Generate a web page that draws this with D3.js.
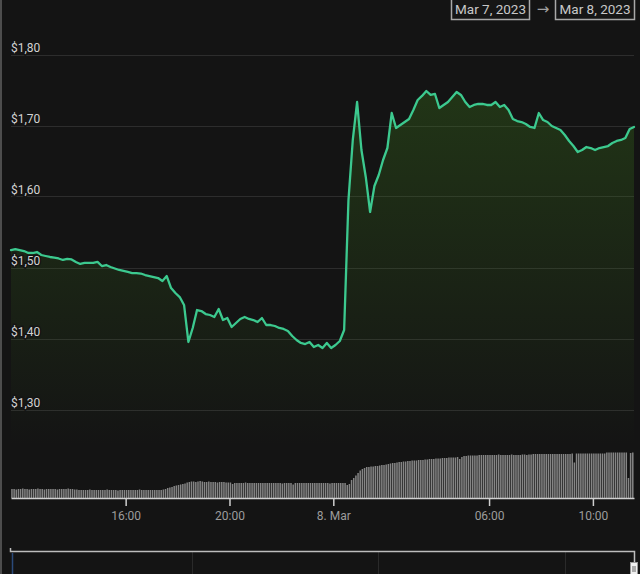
<!DOCTYPE html>
<html>
<head>
<meta charset="utf-8">
<script src="https://cdn.jsdelivr.net/npm/d3@7"></script>
<style>
  html, body { margin: 0; padding: 0; background: #141414; }
  svg { display: block; font-family: Roboto, "Noto Sans", sans-serif; }
</style>
</head>
<body>
<svg id="chart" width="640" height="574"></svg>
<script>
// ---- data ----
const rangeLabels = ["Mar 7, 2023", "Mar 8, 2023"];
const priceTicks = [1.3, 1.4, 1.5, 1.6, 1.7, 1.8];
const priceTickLabels = ["$1,30", "$1,40", "$1,50", "$1,60", "$1,70", "$1,80"];
const timeTicks = ["2023-03-07T16:00", "2023-03-07T20:00", "2023-03-08T00:00", "2023-03-08T06:00", "2023-03-08T10:00"];
const timeTickLabels = ["16:00", "20:00", "8. Mar", "06:00", "10:00"];
const seriesStart = "2023-03-07T11:35";
const seriesEnd = "2023-03-08T11:35";
const priceStepMinutes = 10;
const volumeStepMinutes = 5;

// USD price, every 10 minutes from Mar 7 11:35
const prices = [
  1.5246, 1.5260, 1.5246, 1.5232, 1.5204, 1.5204, 1.5218, 1.5176, 1.5162, 1.5148,
  1.5140, 1.5127, 1.5106, 1.5120, 1.5113, 1.5078, 1.5050, 1.5064, 1.5064, 1.5064,
  1.5078, 1.5021, 1.5035, 1.5007, 1.4986, 1.4965, 1.4951, 1.4937, 1.4922, 1.4922,
  1.4915, 1.4894, 1.4880, 1.4866, 1.4852, 1.4810, 1.4880, 1.4711, 1.4641, 1.4584,
  1.4472, 1.3951, 1.4148, 1.4401, 1.4387, 1.4345, 1.4331, 1.4303, 1.4415, 1.4260,
  1.4289, 1.4162, 1.4218, 1.4275, 1.4303, 1.4275, 1.4260, 1.4232, 1.4289, 1.4190,
  1.4190, 1.4176, 1.4148, 1.4134, 1.4106, 1.4035, 1.3979, 1.3937, 1.3922, 1.3951,
  1.3880, 1.3908, 1.3866, 1.3937, 1.3866, 1.3908, 1.3965, 1.4120, 1.5950, 1.6796,
  1.7331, 1.6655, 1.6275, 1.5782, 1.6148, 1.6303, 1.6514, 1.6683, 1.7176, 1.6965,
  1.7007, 1.7049, 1.7092, 1.7218, 1.7359, 1.7416, 1.7486, 1.7430, 1.7444, 1.7246,
  1.7289, 1.7331, 1.7401, 1.7472, 1.7430, 1.7331, 1.7260, 1.7289, 1.7303, 1.7303,
  1.7289, 1.7289, 1.7331, 1.7260, 1.7289, 1.7218, 1.7092, 1.7063, 1.7049, 1.7021,
  1.6979, 1.6965, 1.7176, 1.7077, 1.7049, 1.6993, 1.6965, 1.6937, 1.6866, 1.6782,
  1.6711, 1.6627, 1.6655, 1.6697, 1.6683, 1.6655, 1.6683, 1.6697, 1.6711, 1.6753,
  1.6782, 1.6796, 1.6824, 1.6951, 1.6979
];

// 24h volume (millions USD), every 5 minutes from Mar 7 11:35
const volumes = [
  18, 18, 17, 18, 18, 19, 18, 18, 17, 18, 18, 18, 19, 18, 18, 17, 18, 18, 18, 18,
  18, 17, 18, 18, 18, 18, 19, 18, 18, 17, 17, 16, 16, 16, 16, 16, 17, 16, 16, 16,
  16, 16, 16, 16, 17, 16, 16, 16, 16, 15, 16, 16, 16, 16, 16, 16, 16, 16, 16, 17,
  16, 16, 16, 16, 16, 16, 16, 16, 16, 16, 17, 18, 20, 21, 22, 24, 25, 26, 27, 28,
  29, 31, 32, 33, 33, 32, 33, 34, 33, 32, 32, 33, 32, 32, 32, 31, 32, 32, 32, 31,
  31, 31, 28, 30, 30, 30, 30, 30, 31, 30, 30, 30, 30, 30, 30, 30, 30, 30, 30, 30,
  30, 30, 30, 30, 30, 29, 30, 30, 30, 30, 27, 30, 30, 30, 30, 30, 30, 30, 30, 30,
  30, 30, 30, 30, 30, 30, 30, 29, 30, 30, 30, 30, 30, 30, 30, 26, 28, 36, 40, 45,
  50, 55, 58, 60, 62, 62, 63, 63, 64, 64, 65, 66, 66, 67, 68, 69, 70, 70, 71, 72,
  72, 73, 73, 74, 74, 75, 75, 75, 76, 76, 76, 77, 77, 78, 78, 78, 79, 79, 79, 80,
  80, 80, 81, 81, 81, 81, 82, 78, 82, 84, 84, 85, 85, 85, 85, 85, 86, 86, 86, 86,
  86, 86, 86, 86, 86, 87, 86, 86, 86, 86, 86, 87, 86, 86, 86, 86, 87, 87, 86, 87,
  87, 88, 88, 88, 88, 88, 88, 88, 88, 88, 88, 88, 88, 88, 88, 88, 88, 88, 88, 89,
  71, 89, 89, 89, 89, 89, 89, 89, 89, 89, 89, 89, 89, 89, 89, 91, 91, 91, 91, 91,
  91, 91, 91, 91, 91, 40, 90, 91
];

// ---- chart ----
const svg = d3.select("#chart");
const W = 640, H = 574;
const left = 11, right = 634;

const parse = d3.timeParse("%Y-%m-%dT%H:%M");
const t0 = parse(seriesStart), t1 = parse(seriesEnd);
const x = d3.scaleTime().domain([t0, t1]).range([left, right]);
const y = d3.scaleLinear().domain([1.3, 1.8]).range([409.5, 54.5]);
const yVol = d3.scaleLinear().domain([0, 200]).range([498, 398]);

const priceData = prices.map((p, i) => ({ t: d3.timeMinute.offset(t0, i * priceStepMinutes), p }));
const volData = volumes.map((v, i) => ({ t: d3.timeMinute.offset(t0, i * volumeStepMinutes), v }));

// left border
svg.append("rect").attr("x", 0).attr("y", 0).attr("width", 2).attr("height", H).attr("fill", "#4d4d4d");

// gradient
const defs = svg.append("defs");
const grad = defs.append("linearGradient").attr("id", "areaGrad")
  .attr("gradientUnits", "userSpaceOnUse").attr("x1", 0).attr("x2", 0).attr("y1", 54).attr("y2", 445);
grad.append("stop").attr("offset", 0).attr("stop-color", "#3d7a1c").attr("stop-opacity", 0.36);
grad.append("stop").attr("offset", 1).attr("stop-color", "#3d7a1c").attr("stop-opacity", 0.0);

// gridlines
svg.append("g").selectAll("line").data(priceTicks).join("line")
  .attr("x1", left).attr("x2", right)
  .attr("y1", d => Math.round(y(d)) + 0.5).attr("y2", d => Math.round(y(d)) + 0.5)
  .attr("stroke", "#2d2d2d").attr("stroke-width", 1);

// area + line
const area = d3.area().x(d => x(d.t)).y0(445).y1(d => y(d.p));
svg.append("path").datum(priceData).attr("d", area).attr("fill", "url(#areaGrad)");

const line = d3.line().x(d => x(d.t)).y(d => y(d.p));
svg.append("path").datum(priceData).attr("d", line)
  .attr("fill", "none").attr("stroke", "#3cc98f").attr("stroke-width", 2.3)
  .attr("stroke-linejoin", "round").attr("stroke-linecap", "round");

// y labels
svg.append("g").selectAll("text").data(priceTicks).join("text")
  .attr("x", left).attr("y", d => y(d) - 2.5)
  .text((d, i) => priceTickLabels[i])
  .attr("fill", "#d2d2d2").attr("font-size", 12)
  .attr("stroke", "#141414").attr("stroke-width", 3).attr("paint-order", "stroke");

// volume bars
svg.append("g").selectAll("rect").data(volData).join("rect")
  .attr("x", d => x(d.t) + 0.2)
  .attr("width", 1.5)
  .attr("y", d => yVol(d.v))
  .attr("height", d => 498 - yVol(d.v))
  .attr("fill", "#858585");

// x axis
const xAxis = d3.axisBottom(x)
  .tickValues(timeTicks.map(parse))
  .tickFormat((d, i) => timeTickLabels[i])
  .tickSize(8).tickSizeOuter(0).tickPadding(5);
const gx = svg.append("g").attr("transform", "translate(0,498)").call(xAxis);
gx.select(".domain").attr("stroke", "#cfcfcf").attr("stroke-width", 1.5);
gx.selectAll(".tick line").attr("stroke", "#cfcfcf").attr("stroke-width", 1.5);
gx.selectAll(".tick text").attr("fill", "#9c9c9c").attr("font-size", 12)
  .attr("font-family", "Roboto, sans-serif");

// date range boxes
const boxes = [{ x: 451, w: 78, label: rangeLabels[0] }, { x: 555, w: 79, label: rangeLabels[1] }];
const gb = svg.append("g");
boxes.forEach(b => {
  gb.append("rect").attr("x", b.x + 0.5).attr("y", -3).attr("width", b.w).attr("height", 22.5)
    .attr("fill", "#161616").attr("stroke", "#a8a8a8").attr("stroke-width", 1.5);
  gb.append("text").attr("x", b.x + b.w / 2 + 0.5).attr("y", 14).attr("text-anchor", "middle")
    .attr("fill", "#c8c8c8").attr("font-size", 13.5).text(b.label);
});
gb.append("text").attr("x", 543).attr("y", 14).attr("text-anchor", "middle")
  .attr("fill", "#a0a0a0").attr("font-size", 15).attr("font-family", "DejaVu Sans").text("→");

// navigator
const nav = svg.append("g");
[192, 378, 565].forEach(vx => {
  nav.append("line").attr("x1", vx + 0.5).attr("x2", vx + 0.5).attr("y1", 552).attr("y2", H)
    .attr("stroke", "#2a2a2a");
});
nav.append("line").attr("x1", 12.5).attr("x2", 12.5).attr("y1", 553).attr("y2", H)
  .attr("stroke", "#2b4a7a").attr("stroke-width", 1.5);
nav.append("path").attr("d", `M10.5,548 L10.5,551.5 L634.5,551.5 L634.5,563`)
  .attr("fill", "none").attr("stroke", "#bdbdbd").attr("stroke-width", 1.5);
nav.append("rect").attr("x", 630.5).attr("y", 562.5).attr("width", 7).attr("height", 13)
  .attr("fill", "#f0f0f0").attr("stroke", "#999");
nav.append("line").attr("x1", 633).attr("x2", 633).attr("y1", 566).attr("y2", 572).attr("stroke", "#666");
nav.append("line").attr("x1", 635).attr("x2", 635).attr("y1", 566).attr("y2", 572).attr("stroke", "#666");
</script>
</body>
</html>
